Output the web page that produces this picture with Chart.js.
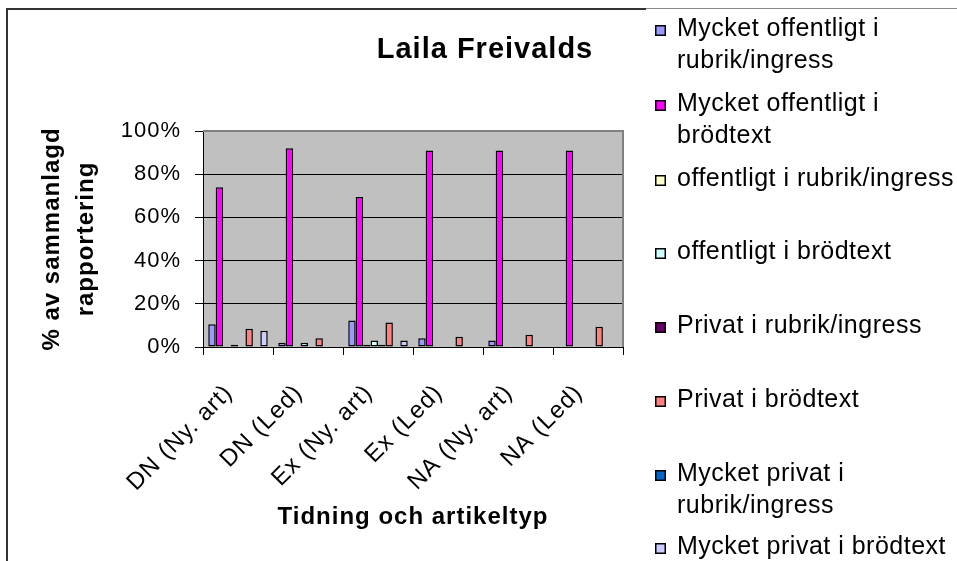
<!DOCTYPE html>
<html lang="sv">
<head>
<meta charset="utf-8">
<title>Laila Freivalds</title>
<script src="https://cdn.jsdelivr.net/npm/chart.js@4.4.1/dist/chart.umd.min.js"></script>
<style>
  html, body { margin: 0; padding: 0; background: #fff; overflow: hidden; }
  #wrap { position: relative; width: 957px; height: 561px; }
  #chart { position: absolute; left: 0; top: 0; }
  .frame { position: absolute; background: #333; }
  .frame.left { left: 6px; top: 8px; width: 2px; height: 553px; }
  .frame.top { left: 6px; top: 8px; width: 640px; height: 2px; }
  .frame.top2 { left: 646px; top: 8px; width: 311px; height: 1px; background: #888; }
</style>
</head>
<body>
<div id="wrap">
  <div class="frame left"></div>
  <div class="frame top"></div>
  <div class="frame top2"></div>
  <canvas id="chart" width="957" height="561"></canvas>
</div>
<script>
const chartTitle = "Laila Freivalds";
const xAxisTitle = "Tidning och artikeltyp";
const yAxisTitle = ["% av sammanlagd", "rapportering"];

const categories = ["DN (Ny. art)", "DN (Led)", "Ex (Ny. art)", "Ex (Led)", "NA (Ny. art)", "NA (Led)"];

// legend text, wrapped the way the original legend shows it
const seriesLabels = [
  ["Mycket offentligt i", "rubrik/ingress"],
  ["Mycket offentligt i", "brödtext"],
  ["offentligt i rubrik/ingress"],
  ["offentligt i brödtext"],
  ["Privat i rubrik/ingress"],
  ["Privat i brödtext"],
  ["Mycket privat i", "rubrik/ingress"],
  ["Mycket privat i brödtext"],
];

const mycketOffentligtRubrik = [10.5, 2, 12.3, 4, 3, 0];
const mycketOffentligtBrodtext = [74, 92, 69.5, 91, 91, 91];
const offentligtRubrik = [0, 0, 1, 0, 0, 0];
const offentligtBrodtext = [1, 2, 3, 0, 0, 0];
const privatRubrik = [0, 0, 1, 0, 0, 0];
const privatBrodtext = [8.5, 4, 11.3, 4.8, 5.7, 9.4];
const mycketPrivatRubrik = [0, 0, 0, 0, 0, 0];
const mycketPrivatBrodtext = [7.5, 0, 3, 0, 0, 0];

const seriesValues = [
  mycketOffentligtRubrik,
  mycketOffentligtBrodtext,
  offentligtRubrik,
  offentligtBrodtext,
  privatRubrik,
  privatBrodtext,
  mycketPrivatRubrik,
  mycketPrivatBrodtext,
];

const yTicks = [0, 20, 40, 60, 80, 100];

const palette = ["#9999ff", "#ff00ff", "#ffffcc", "#ccffff", "#660066", "#ff8080", "#0066cc", "#ccccff"];
const FONT = '"Liberation Sans", Arial, Helvetica, sans-serif';

const setSpacing = (ctx, px = 1) => {
  if ("letterSpacing" in ctx) {
    ctx.letterSpacing = `${px}px`;
  }
};

const letterSpacingPlugin = {
  id: "letterSpacing",
  beforeLayout: (chart) => setSpacing(chart.ctx),
  beforeDraw: (chart) => setSpacing(chart.ctx),
};

const plotAreaPlugin = {
  id: "plotArea",
  beforeDraw: (chart) => {
    const { ctx, chartArea: { left, top, right, bottom } } = chart;
    ctx.save();
    ctx.fillStyle = "#c0c0c0";
    ctx.fillRect(left, top, right - left, bottom - top);
    ctx.restore();
  },
  beforeDatasetsDraw: (chart) => {
    const { ctx, chartArea: { left, top, right, bottom } } = chart;
    ctx.save();
    ctx.strokeStyle = "#808080";
    ctx.lineWidth = 2;
    ctx.beginPath();
    ctx.moveTo(left, top);
    ctx.lineTo(right, top);
    ctx.lineTo(right, bottom);
    ctx.stroke();
    ctx.restore();
  },
};

// title and the right-hand legend, placed like the original
const sideTextPlugin = {
  id: "sideText",
  afterDraw: (chart) => {
    const ctx = chart.ctx;
    ctx.save();
    setSpacing(ctx, 1);
    ctx.fillStyle = "#000";
    ctx.textBaseline = "middle";

    ctx.font = `bold 29px ${FONT}`;
    ctx.textAlign = "center";
    ctx.fillText(chartTitle, 485, 50);

    const rows = [29, 104, 179, 252, 326, 400, 474, 547];
    const lineGap = 32;
    setSpacing(ctx, 0.5);
    ctx.font = `25px ${FONT}`;
    ctx.textAlign = "left";
    chart.data.datasets.forEach((ds, i) => {
      const y = rows[i];
      ctx.fillStyle = "#000";
      ctx.fillRect(655, y - 4, 11, 11);
      ctx.fillStyle = ds.backgroundColor;
      ctx.fillRect(656.5, y - 2.5, 8, 8);
      ctx.fillStyle = "#000";
      ds.legendLines.forEach((line, j) => {
        ctx.fillText(line, 677, y + j * lineGap);
      });
    });
    ctx.restore();
  },
};

const datasets = seriesValues.map((values, i) => ({
  label: seriesLabels[i].join(" "),
  legendLines: seriesLabels[i],
  data: values,
  backgroundColor: palette[i],
  borderColor: "#000",
  borderWidth: 1.5,
  borderSkipped: false,
  categoryPercentage: 0.85,
  barPercentage: 1,
}));

new Chart(document.getElementById("chart"), {
  type: "bar",
  data: { labels: categories, datasets },
  plugins: [letterSpacingPlugin, plotAreaPlugin, sideTextPlugin],
  options: {
    responsive: false,
    animation: false,
    devicePixelRatio: 1,
    layout: { padding: { top: 131, right: 334, bottom: 0, left: 0 } },
    plugins: {
      legend: { display: false },
      title: { display: false },
      tooltip: { enabled: false },
    },
    scales: {
      x: {
        offset: true,
        grid: {
          offset: true,
          drawOnChartArea: false,
          drawTicks: true,
          tickLength: 8,
          color: "#000",
        },
        border: { color: "#000", width: 1 },
        ticks: {
          autoSkip: false,
          minRotation: 45,
          maxRotation: 45,
          padding: 24,
          labelOffset: -9,
          color: "#000",
          font: { family: FONT, size: 24 },
        },
        title: {
          display: true,
          text: xAxisTitle,
          color: "#000",
          font: { family: FONT, size: 24, weight: "bold" },
          padding: { top: 0, bottom: 29 },
        },
        afterFit: (scale) => {
          scale.height = 214;
        },
      },
      y: {
        min: 0,
        max: 100,
        afterBuildTicks: (scale) => {
          scale.ticks = yTicks.map((value) => ({ value }));
        },
        grid: { color: "#000", tickLength: 8 },
        border: { color: "#000", width: 1 },
        ticks: {
          padding: 14,
          color: "#000",
          font: { family: FONT, size: 22 },
          callback: (value) => `${value}%`,
        },
        title: {
          display: true,
          text: yAxisTitle,
          color: "#000",
          font: { family: FONT, size: 24, weight: "bold", lineHeight: "34px" },
          padding: { top: 35, bottom: 0 },
        },
        afterFit: (scale) => {
          scale.width = 203;
        },
      },
    },
  },
});
</script>
</body>
</html>
